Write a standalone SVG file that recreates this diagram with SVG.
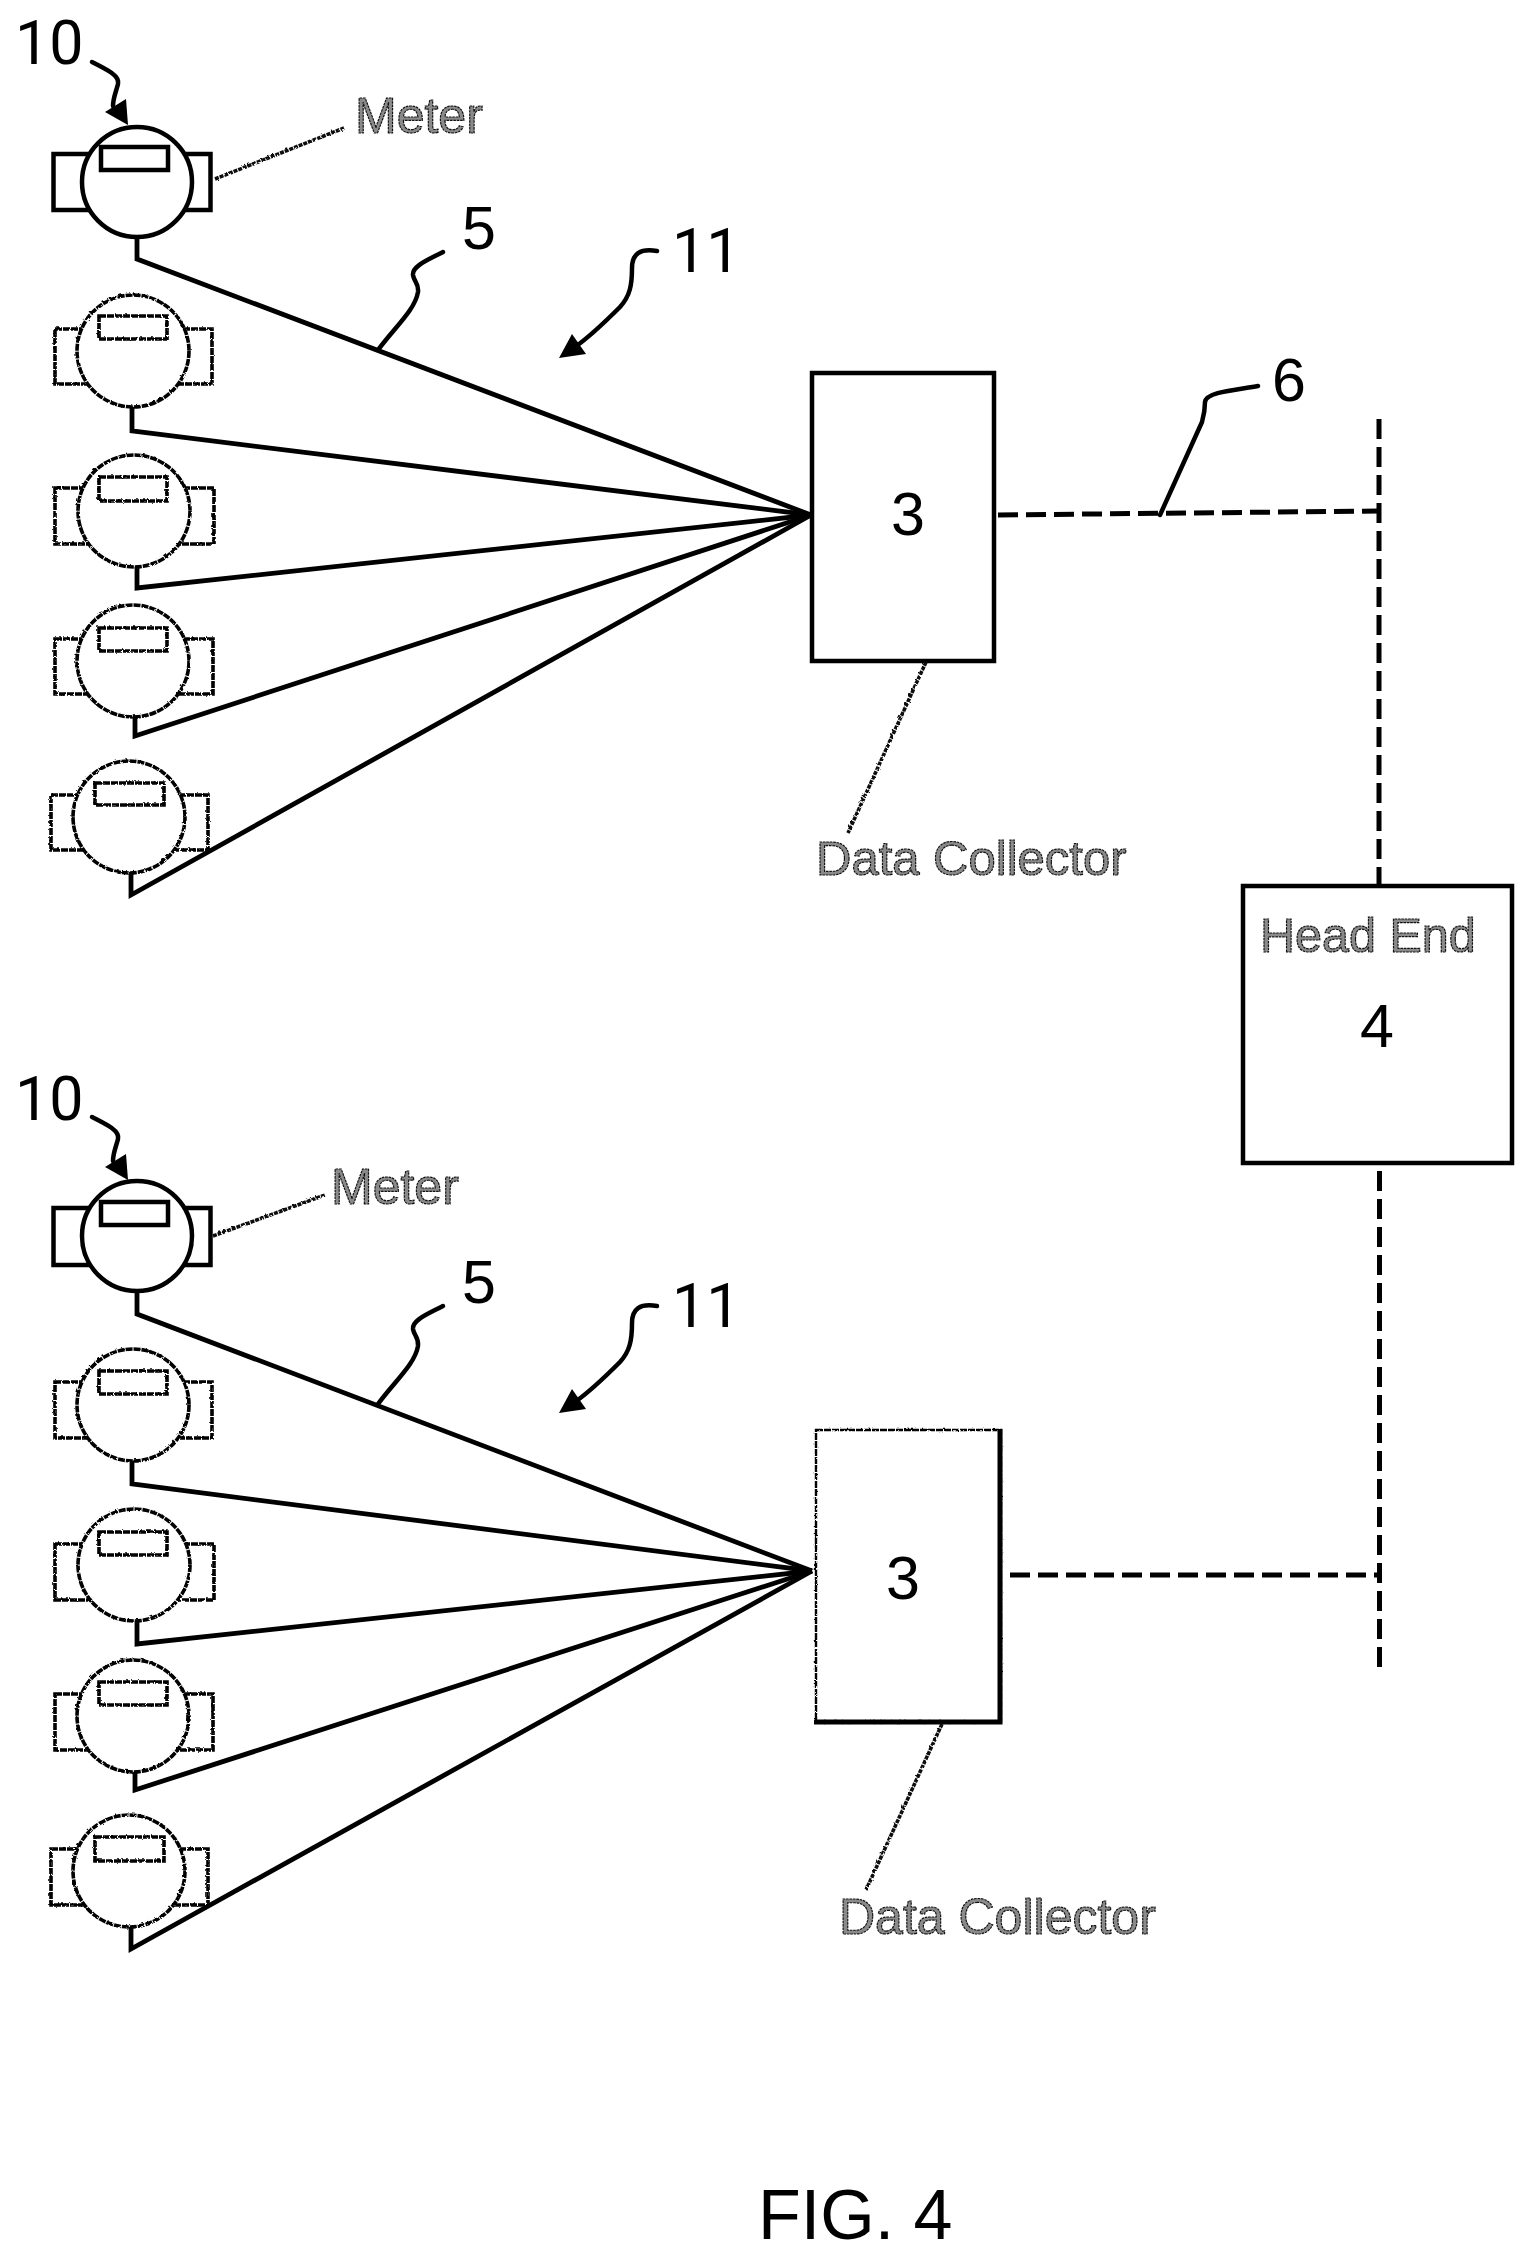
<svg xmlns="http://www.w3.org/2000/svg" width="1532" height="2261" viewBox="0 0 1532 2261">
<style>
text{font-family:"Liberation Sans",Arial,sans-serif;fill:#000}
.num{font-size:61px}
.alt{font-family:Roboto,"Liberation Sans",sans-serif;font-size:61px}
.fig{font-size:70px}
.lab{font-size:50px;fill:#8a8a8a;stroke:#111;stroke-width:1.2;stroke-dasharray:2.6 .8}
.s{fill:none;stroke:#000;stroke-width:5;stroke-linejoin:miter}
.body{fill:#fff;stroke:#000;stroke-width:4.5}
.dot{fill:#fff;stroke:#000;stroke-width:3.6;stroke-dasharray:7 1}
.wire{fill:none;stroke:#000;stroke-width:4.8;stroke-linejoin:miter}
.dash{fill:none;stroke:#000;stroke-width:5;stroke-dasharray:20 8}
.lead{fill:none;stroke:#000;stroke-width:4.5;stroke-linecap:round;stroke-linejoin:round}
.note{fill:none;stroke:#111;stroke-width:3.6;stroke-dasharray:4 1}
.head{fill:#000}
</style>
<defs>
<filter id="rough" filterUnits="userSpaceOnUse" x="0" y="0" width="1532" height="2261">
<feTurbulence type="turbulence" baseFrequency="0.28" numOctaves="1" seed="4" result="n"/>
<feDisplacementMap in="SourceGraphic" in2="n" scale="3"/>
</filter>
</defs>
<rect width="1532" height="2261" fill="#fff"/>

<g id="connectors">
<polyline class="wire" points="137,237 137,259 811,515"/>
<polyline class="wire" points="132,405 132,431 811,515"/>
<polyline class="wire" points="137,566 137,588 811,515"/>
<polyline class="wire" points="135,715 135,736 811,515"/>
<polyline class="wire" points="131,871 131,895 811,515"/>
<polyline class="wire" points="137,1291 137,1314 812,1571"/>
<polyline class="wire" points="132,1459 132,1484 812,1571"/>
<polyline class="wire" points="137,1618 137,1644 812,1571"/>
<polyline class="wire" points="135,1770 135,1790 812,1571"/>
<polyline class="wire" points="131,1926 131,1949 812,1571"/>
<path class="dash" d="M998,515 L1379,511"/>
<path class="dash" d="M1379,419 V885"/>
<path class="dash" d="M1379.5,1667 V1164"/>
<path class="dash" d="M1010,1575 H1380"/>
</g>

<g id="meter-a1">
<rect class="body" x="53.5" y="154" width="157" height="56"/>
<circle class="body" cx="137" cy="182" r="55"/>
<rect class="body" x="101" y="147" width="67" height="23"/>
</g>
<g id="meter-a2" filter="url(#rough)">
<rect class="dot" x="54" y="328" width="157" height="55"/>
<circle class="dot" cx="132" cy="350" r="56"/>
<rect class="dot" x="98" y="315" width="68" height="23"/>
</g>
<g id="meter-a3" filter="url(#rough)">
<rect class="dot" x="54" y="487" width="159" height="56"/>
<circle class="dot" cx="133" cy="510" r="56"/>
<rect class="dot" x="98" y="476" width="68" height="24"/>
</g>
<g id="meter-a4" filter="url(#rough)">
<rect class="dot" x="54" y="638" width="158" height="55"/>
<circle class="dot" cx="132" cy="660" r="56"/>
<rect class="dot" x="98" y="627" width="68" height="23"/>
</g>
<g id="meter-a5" filter="url(#rough)">
<rect class="dot" x="50" y="794" width="157" height="55"/>
<circle class="dot" cx="128" cy="816" r="56"/>
<rect class="dot" x="94" y="782" width="69" height="22"/>
</g>

<g id="meter-b1">
<rect class="body" x="53.5" y="1208" width="157" height="57"/>
<circle class="body" cx="137" cy="1236" r="55"/>
<rect class="body" x="101" y="1202" width="67" height="23"/>
</g>
<g id="meter-b2" filter="url(#rough)">
<rect class="dot" x="54" y="1381" width="157" height="56"/>
<circle class="dot" cx="132" cy="1404" r="56"/>
<rect class="dot" x="98" y="1370" width="68" height="23"/>
</g>
<g id="meter-b3" filter="url(#rough)">
<rect class="dot" x="54" y="1543" width="159" height="56"/>
<circle class="dot" cx="133" cy="1564" r="56"/>
<rect class="dot" x="98" y="1531" width="68" height="23"/>
</g>
<g id="meter-b4" filter="url(#rough)">
<rect class="dot" x="54" y="1693" width="158" height="56"/>
<circle class="dot" cx="132" cy="1715" r="56"/>
<rect class="dot" x="98" y="1681" width="68" height="23"/>
</g>
<g id="meter-b5" filter="url(#rough)">
<rect class="dot" x="50" y="1848" width="157" height="56"/>
<circle class="dot" cx="128" cy="1870" r="56"/>
<rect class="dot" x="94" y="1836" width="69" height="24"/>
</g>

<g id="collector-a">
<rect class="body" x="812" y="373" width="182" height="288"/>
<text class="num" x="908" y="535" text-anchor="middle">3</text>
</g>
<g id="collector-b">
<g filter="url(#rough)"><rect class="dot" x="815" y="1429" width="185" height="292" style="stroke-width:2.4"/></g>
<path class="s" d="M1000,1429 V1722 H814"/>
<text class="num" x="903" y="1599" text-anchor="middle">3</text>
</g>
<g id="head-end">
<rect class="body" x="1243" y="886" width="269" height="277"/>
<text class="lab" x="1260" y="952" style="font-size:48.5px">Head End</text>
<text class="num" x="1377" y="1047" text-anchor="middle">4</text>
</g>

<g id="labels-a">
<text class="alt" x="15" y="64">10</text>
<path class="lead" d="M92,62 C108,70 120,76 118,84 C116,92 113,98 113,106"/>
<polygon class="head" points="105,112 126,99 128,125"/>
<text class="lab" x="355" y="133">Meter</text>
<path class="note" d="M214,178 L343,127" filter="url(#rough)"/>
<text class="num" x="462" y="249">5</text>
<path class="lead" d="M443,252 C428,260 412,266 413,275 C414,282 419,283 418,292 C415,310 395,327 378,350"/>
<text class="alt" x="672" y="272">11</text>
<path class="lead" d="M657,251 C640,248 632,254 632,268 C632,285 630,296 620,307 C606,321 592,335 575,347"/>
<polygon class="head" points="559,358 572,334 586,354"/>
<text class="num" x="1272" y="401">6</text>
<path class="lead" d="M1258,386 C1235,390 1206,392 1205,402 C1205,408 1204,415 1202,422 L1160,515"/>
<text class="lab" x="816" y="875" style="font-size:49px">Data Collector</text>
<path class="note" d="M925,661 L847,832" filter="url(#rough)"/>
</g>

<g id="labels-b">
<text class="alt" x="15" y="1120">10</text>
<path class="lead" d="M92,1117 C108,1125 120,1131 118,1139 C116,1147 113,1153 113,1161"/>
<polygon class="head" points="105,1167 126,1154 128,1180"/>
<text class="lab" x="331" y="1204">Meter</text>
<path class="note" d="M212,1235 L324,1194" filter="url(#rough)"/>
<text class="num" x="462" y="1303">5</text>
<path class="lead" d="M443,1306 C428,1314 412,1320 413,1329 C414,1336 419,1337 418,1346 C415,1364 395,1381 378,1404"/>
<text class="alt" x="672" y="1327">11</text>
<path class="lead" d="M657,1306 C640,1303 632,1309 632,1323 C632,1340 630,1351 620,1362 C606,1376 592,1390 575,1402"/>
<polygon class="head" points="559,1413 572,1389 586,1409"/>
<text class="lab" x="839" y="1934">Data Collector</text>
<path class="note" d="M941,1723 L865,1889" filter="url(#rough)"/>
</g>

<text id="fig-label" class="fig" x="758" y="2239">FIG. 4</text>
</svg>
